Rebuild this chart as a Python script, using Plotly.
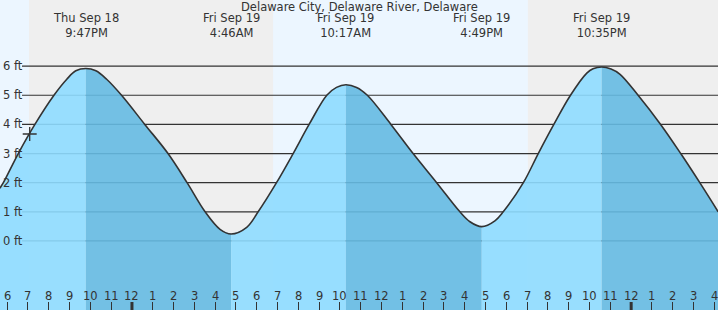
import plotly.graph_objects as go
import pandas as pd

# ---------------- data ----------------
tide_times = [
    "2025-09-18 17:39", "2025-09-18 17:49", "2025-09-18 18:32", "2025-09-18 19:20",
    "2025-09-18 20:15", "2025-09-18 20:52", "2025-09-18 21:18", "2025-09-18 21:47",
    "2025-09-18 22:16", "2025-09-18 22:47", "2025-09-18 23:30", "2025-09-19 00:37",
    "2025-09-19 01:44", "2025-09-19 02:39", "2025-09-19 03:31", "2025-09-19 04:14",
    "2025-09-19 04:46",
    "2025-09-19 05:31", "2025-09-19 06:04", "2025-09-19 06:57", "2025-09-19 07:45",
    "2025-09-19 08:31", "2025-09-19 09:22", "2025-09-19 09:50", "2025-09-19 10:17",
    "2025-09-19 10:48", "2025-09-19 11:19", "2025-09-19 12:27", "2025-09-19 13:31",
    "2025-09-19 14:39", "2025-09-19 15:46", "2025-09-19 16:15", "2025-09-19 16:49",
    "2025-09-19 17:27", "2025-09-19 17:51", "2025-09-19 18:49", "2025-09-19 19:32",
    "2025-09-19 20:17", "2025-09-19 21:05", "2025-09-19 21:52", "2025-09-19 22:10",
    "2025-09-19 22:35", "2025-09-19 23:02",
    "2025-09-19 23:28", "2025-09-20 00:20", "2025-09-20 01:25", "2025-09-20 02:23",
    "2025-09-20 03:18", "2025-09-20 04:11",
]
tide_ft = [
    1.81, 2.0, 3.0, 4.0,
    5.0, 5.55, 5.84, 5.92,
    5.84, 5.55, 5.0, 4.0,
    3.0, 2.0, 1.0, 0.40,
    0.24,
    0.47, 1.0, 2.0, 3.0,
    4.0, 5.0, 5.27, 5.36,
    5.27, 5.0, 4.0, 3.0,
    2.0, 1.0, 0.66, 0.49,
    0.69, 1.0, 2.0, 3.0,
    4.0, 5.0, 5.76, 5.91,
    5.97, 5.90,
    5.72, 5.0, 4.0, 3.0,
    2.0, 1.0,
]

extreme_times = ["2025-09-18 21:47", "2025-09-19 04:46", "2025-09-19 10:17",
                 "2025-09-19 16:49", "2025-09-19 22:35", "2025-09-20 05:22"]
extreme_days = ["Thu Sep 18", "Fri Sep 19", "Fri Sep 19", "Fri Sep 19", "Fri Sep 19", "Sat Sep 20"]
extreme_clock = ["9:47PM", "4:46AM", "10:17AM", "4:49PM", "10:35PM", "5:22AM"]

night_starts = ["2025-09-18 19:03", "2025-09-19 19:02"]
night_ends = ["2025-09-19 06:47", "2025-09-20 06:47"]

now_time = ["2025-09-18 19:05"]
now_ft = [3.67]

grid_ft = [0, 1, 2, 3, 4, 5, 6]
hour_labels = ["6", "7", "8", "9", "10", "11", "12", "1", "2", "3", "4", "5", "6", "7", "8",
               "9", "10", "11", "12", "1", "2", "3", "4", "5", "6", "7", "8", "9", "10", "11",
               "12", "1", "2", "3", "4"]
first_hour = "2025-09-18 18:00"
midnights = ["2025-09-19 00:00", "2025-09-20 00:00"]

title = "Delaware City, Delaware River, Delaware"

x_start = "2025-09-18 17:39:20"
x_end = "2025-09-20 04:10:30"
y_min, y_max = -2.37, 8.27

# ---------------- styles ----------------
FONT = "DejaVu Sans"
FS = 11.5
TXT = "#333333"
DAY = "#ECF6FF"
NIGHT = "#EFEFEF"
RISE = "rgba(142,219,255,0.9)"
FALL = "rgba(101,186,226,0.9)"

fig = go.Figure()

# fills, split at extremes
times = pd.to_datetime(tide_times)
ext = set(pd.to_datetime(extreme_times))
split_idx = [0] + [i for i, t in enumerate(times) if t in ext] + [len(times) - 1]
for k in range(len(split_idx) - 1):
    a, b = split_idx[k], split_idx[k + 1]
    seg_x = tide_times[a:b + 1]
    seg_y = tide_ft[a:b + 1]
    color = RISE if seg_y[-1] > seg_y[0] else FALL
    fig.add_trace(go.Scatter(x=[seg_x[0], seg_x[-1]], y=[y_min, y_min], mode="lines",
                             line=dict(width=0), hoverinfo="skip", showlegend=False))
    fig.add_trace(go.Scatter(x=seg_x, y=seg_y, mode="lines", fill="tonexty",
                             fillcolor=color, line=dict(width=0, shape="spline"),
                             hoverinfo="skip", showlegend=False))

# curve
fig.add_trace(go.Scatter(x=tide_times, y=tide_ft, mode="lines",
                         line=dict(color="#333333", width=1.6, shape="spline"),
                         showlegend=False))
# current-time marker
fig.add_trace(go.Scatter(x=now_time, y=now_ft, mode="markers",
                         marker=dict(symbol="cross-thin", size=10,
                                     line=dict(color="#333333", width=1.3)),
                         showlegend=False))

shapes = []
shapes.append(dict(type="rect", xref="paper", yref="paper", x0=0, x1=1, y0=0, y1=1,
                   fillcolor=DAY, line=dict(width=0), layer="below"))
for s, e in zip(night_starts, night_ends):
    shapes.append(dict(type="rect", xref="x", yref="paper", x0=s, x1=e, y0=0, y1=1,
                       fillcolor=NIGHT, line=dict(width=0), layer="below"))
for v in grid_ft:
    shapes.append(dict(type="line", xref="paper", yref="y", x0=22 / 718, x1=1, y0=v, y1=v,
                       line=dict(color="#333333", width=1.2), layer="below"))
for m in midnights:
    shapes.append(dict(type="line", xref="x", yref="paper", x0=m, x1=m, y0=0, y1=8 / 310,
                       line=dict(color="#333333", width=3), layer="above"))

ann = []
ann.append(dict(text=title, xref="paper", yref="paper", x=0.5, y=1 - 7 / 310,
                showarrow=False, font=dict(family=FONT, size=FS, color=TXT),
                xanchor="center", yanchor="middle"))
for t, d, c in zip(extreme_times, extreme_days, extreme_clock):
    ann.append(dict(text=f"{d}<br>{c}", xref="x", yref="paper", x=t, y=1 - 25.8 / 310,
                    showarrow=False, borderpad=0,
                    font=dict(family=FONT, size=FS, color=TXT), xanchor="center", yanchor="middle"))
for v in grid_ft:
    ann.append(dict(text=f"{v} ft", xref="paper", yref="y", x=0, y=v, xshift=1,
                    showarrow=False, font=dict(family=FONT, size=FS, color=TXT),
                    xanchor="left", yanchor="middle"))

tick_vals = pd.date_range(first_hour, periods=len(hour_labels), freq="h")
for tv, lab in zip(tick_vals, hour_labels):
    ann.append(dict(text=lab, xref="x", yref="paper", x=tv, y=1 - 296 / 310,
                    showarrow=False, borderpad=0,
                    font=dict(family=FONT, size=FS, color=TXT), xanchor="center", yanchor="middle"))

fig.update_layout(
    width=718, height=310,
    margin=dict(l=0, r=0, t=0, b=0),
    paper_bgcolor="white", plot_bgcolor=DAY,
    shapes=shapes, annotations=ann,
    xaxis=dict(type="date", range=[x_start, x_end], tickvals=tick_vals,
               ticks="inside", ticklen=8, tickwidth=1, tickcolor="#333333",
               showticklabels=False,
               showgrid=False, zeroline=False, showline=False, layer="above traces",
               fixedrange=True),
    yaxis=dict(range=[y_min, y_max], showticklabels=False, showgrid=False, zeroline=False,
               ticks="", fixedrange=True),
    showlegend=False,
)

fig.write_html("out.html")
